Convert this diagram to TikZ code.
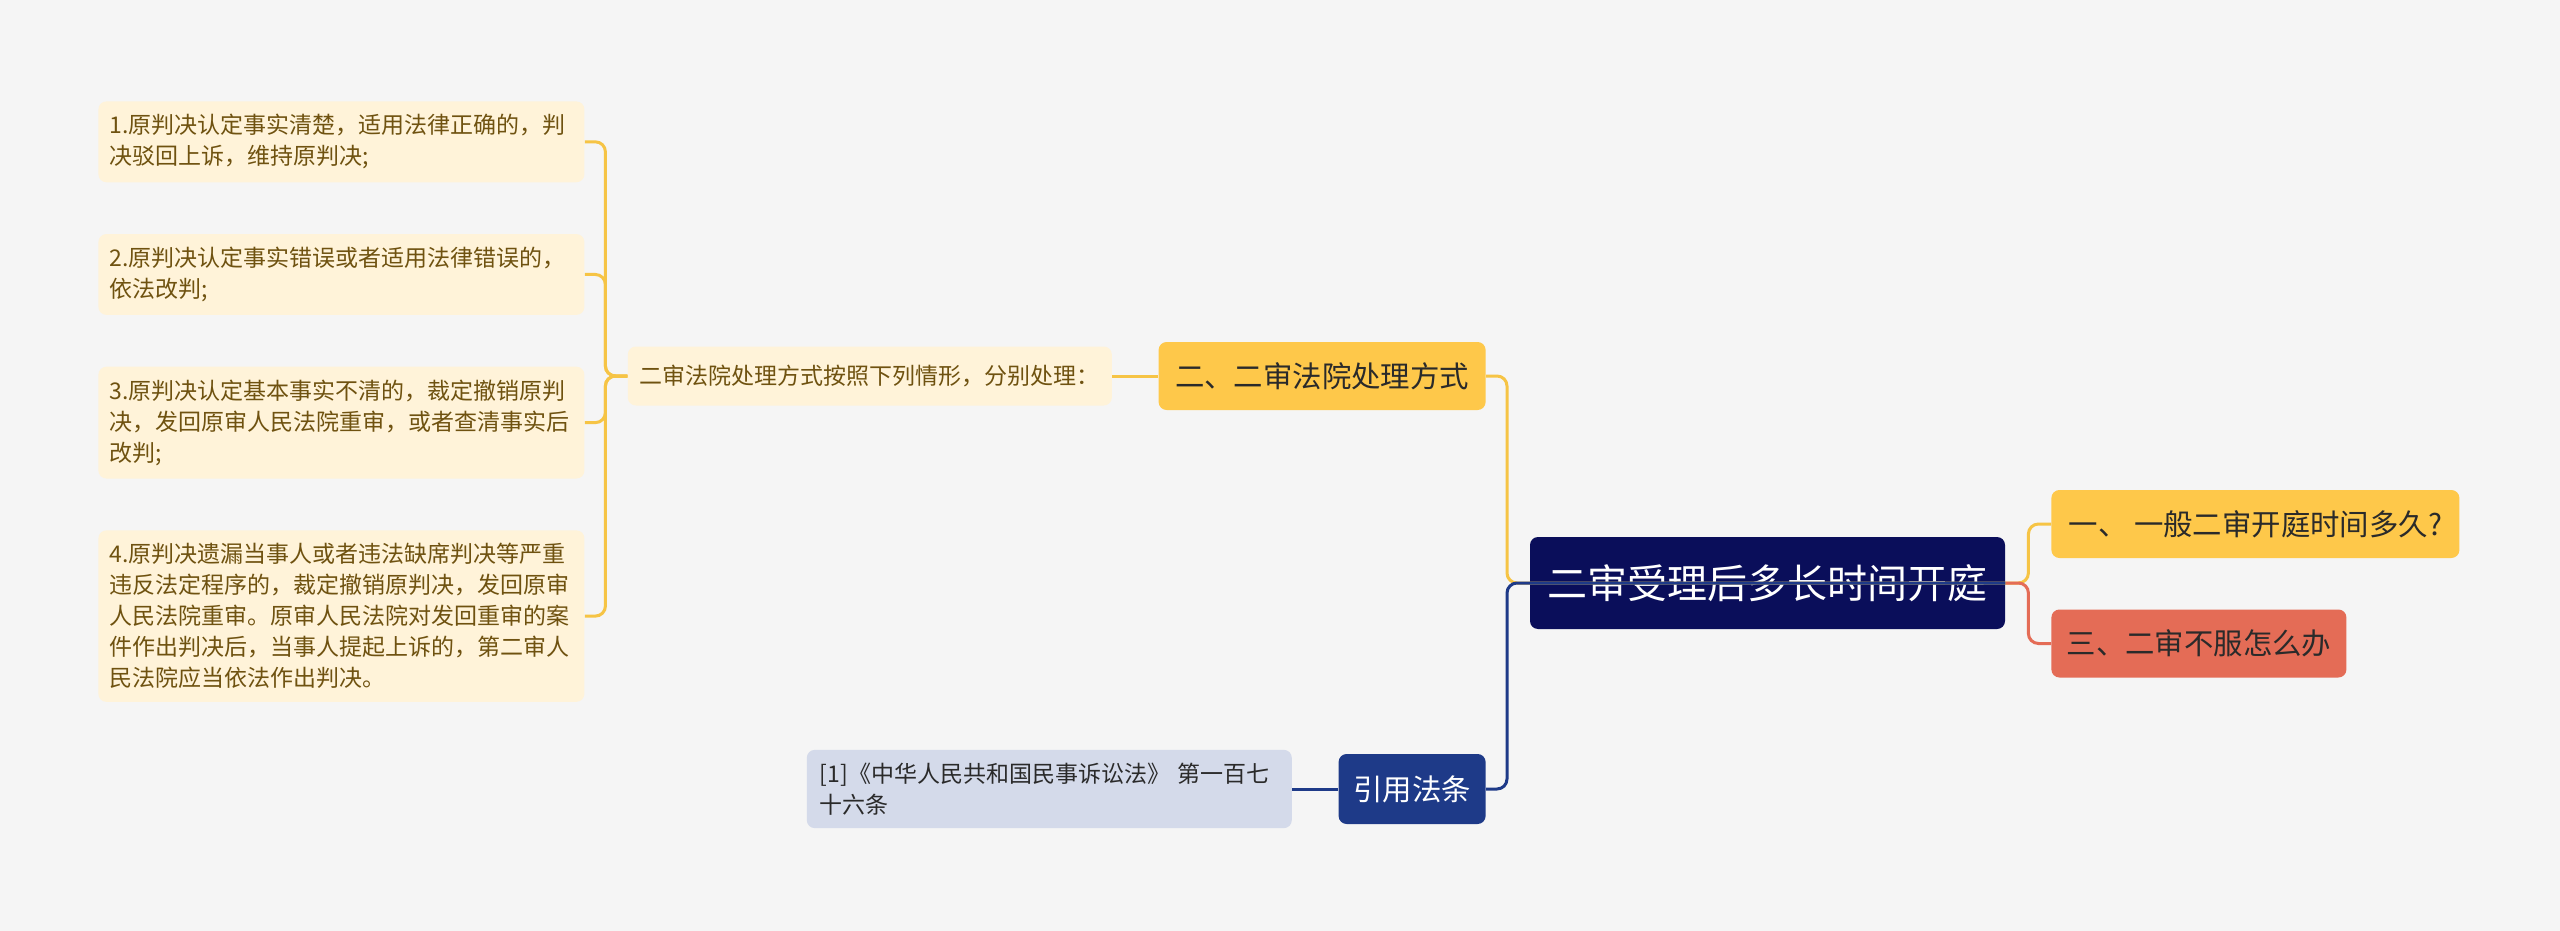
\documentclass[tikz,border=0pt]{standalone}
\usepackage{fontspec}
\newfontfamily\cjk{Noto Sans CJK SC}
\usetikzlibrary{positioning}
\definecolor{bgc}{HTML}{F5F5F5}
\definecolor{leafbg}{HTML}{FFF3D9}
\definecolor{leaftxt}{HTML}{6F5210}
\definecolor{yel}{HTML}{FEC84A}
\definecolor{yelline}{HTML}{F6C445}
\definecolor{navy}{HTML}{0A0E5A}
\definecolor{coral}{HTML}{E46C56}
\definecolor{citeblue}{HTML}{1E3A88}
\definecolor{refbg}{HTML}{D4DAEA}
\definecolor{darktxt}{HTML}{2A2A2A}

\tikzset{
  leafbox/.style={fill=leafbg, text=leaftxt, rounded corners=4pt, align=left,
    font=\cjk\fontsize{11.5pt}{15.5pt}\selectfont, text width=232pt, inner xsep=5.5pt, inner ysep=6.5pt},
  notebox/.style={fill=leafbg, text=leaftxt, rounded corners=4pt,
    font=\cjk\fontsize{11.5pt}{15.5pt}\selectfont, minimum width=242pt, minimum height=29.5pt},
  topicbox/.style={fill=yel, text=darktxt, rounded corners=4pt,
    font=\cjk\fontsize{14.7pt}{18pt}\selectfont, minimum height=34pt},
  rootbox/.style={fill=navy, text=white, rounded corners=4pt,
    font=\cjk\fontsize{20pt}{24pt}\selectfont, minimum width=237.5pt, minimum height=46pt},
  citebox/.style={fill=citeblue, text=white, rounded corners=4pt,
    font=\cjk\fontsize{14.7pt}{18pt}\selectfont, minimum width=73.5pt, minimum height=35pt},
  reflbox/.style={fill=refbg, text=darktxt, rounded corners=4pt, align=left,
    font=\cjk\fontsize{11.5pt}{15.5pt}\selectfont, text width=229.5pt, inner xsep=6.5pt, inner ysep=6.5pt},
  yline/.style={draw=yelline, line width=1.5pt, rounded corners=5pt},
  oline/.style={draw=coral, line width=1.5pt, rounded corners=5pt},
  bline/.style={draw=citeblue, line width=1.5pt, rounded corners=5pt}
}

\begin{document}
\begin{tikzpicture}[x=0.5pt, y=-0.5pt, node distance=25.5pt]
        \useasboundingbox (0,0) rectangle (2560,931);
        \fill[bgc] (0,0) rectangle (2560,931);

        % center and right side
        \node[rootbox] (root) at (1767.5,583) {二审受理后多长时间开庭};
        \node[topicbox, anchor=west, minimum width=204pt] (q1) at (2051,524) {一、 一般二审开庭时间多久?};
        \node[topicbox, fill=coral, text=darktxt, anchor=west, minimum width=147.5pt] (q3) at (2051,643.5) {三、二审不服怎么办};

        % left side
        \node[topicbox, anchor=east, minimum width=163.5pt] (q2) at (1486,376) {二、二审法院处理方式};
        \node[notebox, left=23pt of q2] (mid) {二审法院处理方式按照下列情形，分别处理：};

        \node[leafbox, anchor=north west] (l1) at (98,101) {1.原判决认定事实清楚，适用法律正确的，判\\决驳回上诉，维持原判决;};
        \node[leafbox, below=of l1] (l2) {2.原判决认定事实错误或者适用法律错误的，\\依法改判;};
        \node[leafbox, below=of l2] (l3) {3.原判决认定基本事实不清的，裁定撤销原判\\决，发回原审人民法院重审，或者查清事实后\\改判;};
        \node[leafbox, below=of l3] (l4) {4.原判决遗漏当事人或者违法缺席判决等严重\\违反法定程序的，裁定撤销原判决，发回原审\\人民法院重审。原审人民法院对发回重审的案\\件作出判决后，当事人提起上诉的，第二审人\\民法院应当依法作出判决。};

        \node[citebox, anchor=east] (cite) at (1486,789) {引用法条};
        \node[reflbox, left=23pt of cite] (ref) {[1]《中华人民共和国民事诉讼法》 第一百七\\十六条};

        % connectors
        \foreach \n in {l1,l2,l3,l4}
          \draw[yline] (mid.west) -- ++(-22,0) |- (\n.east);
        \draw[yline] (q2.west) -- (mid.east);
        \draw[bline] (cite.west) -- (ref.east);

        \draw[yline] (root.east) -- ++(23,0) |- (q1.west);
        \draw[oline] (root.east) -- ++(23,0) |- (q3.west);
        \draw[yline] (q2.east) -- ++(21,0) |- (root.east);
        \draw[bline] (cite.east) -- ++(21,0) |- (root.east);
\end{tikzpicture}
\end{document}
